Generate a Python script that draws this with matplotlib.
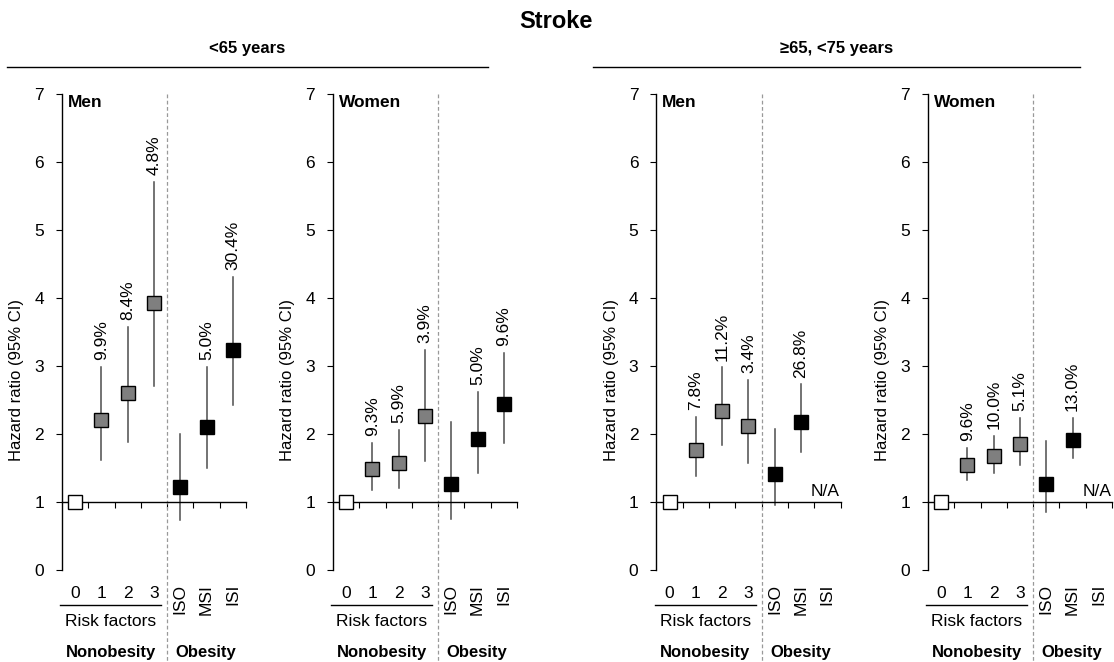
import numpy as np
import matplotlib.pyplot as plt

plt.rcParams['font.family'] = ['Liberation Sans', 'DejaVu Sans']

nan = np.nan
categories = ['0', '1', '2', '3', 'ISO', 'MSI', 'ISI']
age_groups = ['<65 years', '\u226565, <75 years']
sexes = ['Men', 'Women', 'Men', 'Women']

# hazard ratios and 95% CI per panel
hr_men_lt65 = [1.0, 2.21, 2.60, 3.93, 1.22, 2.11, 3.24]
lo_men_lt65 = [nan, 1.62, 1.88, 2.70, 0.74, 1.50, 2.43]
hi_men_lt65 = [nan, 2.99, 3.58, 5.71, 2.00, 2.99, 4.31]
pct_men_lt65 = ['', '9.9%', '8.4%', '4.8%', '', '5.0%', '30.4%']

hr_women_lt65 = [1.0, 1.48, 1.57, 2.27, 1.26, 1.93, 2.44]
lo_women_lt65 = [nan, 1.18, 1.20, 1.60, 0.75, 1.42, 1.87]
hi_women_lt65 = [nan, 1.87, 2.06, 3.24, 2.17, 2.62, 3.19]
pct_women_lt65 = ['', '9.3%', '5.9%', '3.9%', '', '5.0%', '9.6%']

hr_men_65 = [1.0, 1.77, 2.34, 2.12, 1.41, 2.18, nan]
lo_men_65 = [nan, 1.38, 1.84, 1.58, 0.96, 1.74, nan]
hi_men_65 = [nan, 2.25, 2.98, 2.80, 2.08, 2.73, nan]
pct_men_65 = ['', '7.8%', '11.2%', '3.4%', '', '26.8%', '']

hr_women_65 = [1.0, 1.54, 1.68, 1.86, 1.26, 1.91, nan]
lo_women_65 = [nan, 1.32, 1.43, 1.54, 0.86, 1.64, nan]
hi_women_65 = [nan, 1.80, 1.97, 2.24, 1.89, 2.24, nan]
pct_women_65 = ['', '9.6%', '10.0%', '5.1%', '', '13.0%', '']

panels = [
    (hr_men_lt65, lo_men_lt65, hi_men_lt65, pct_men_lt65),
    (hr_women_lt65, lo_women_lt65, hi_women_lt65, pct_women_lt65),
    (hr_men_65, lo_men_65, hi_men_65, pct_men_65),
    (hr_women_65, lo_women_65, hi_women_65, pct_women_65),
]

face = ['white', '#7f7f7f', '#7f7f7f', '#7f7f7f', 'black', 'black', 'black']

W, H = 1114, 662
fig = plt.figure(figsize=(W / 100, H / 100), dpi=100)

lefts = [62, 333, 656.5, 928]
ax_w = 184
y0_px, y7_px = 570, 94
ax_h = y0_px - y7_px
fs = 12.5

x = np.arange(len(categories))

for k, (hr, lo, hi, pct) in enumerate(panels):
    ax = fig.add_axes([lefts[k] / W, (H - y0_px) / H, ax_w / W, ax_h / H])
    ax.set_xlim(-0.5, 6.5)
    ax.set_ylim(0, 7)
    for s in ['top', 'right']:
        ax.spines[s].set_visible(False)
    ax.spines['bottom'].set_position(('data', 1))
    ax.spines['left'].set_linewidth(1.0)
    ax.spines['bottom'].set_linewidth(1.0)
    ax.set_yticks(range(8))
    ax.tick_params(axis='y', direction='out', length=4, pad=9, labelsize=fs)
    ax.set_xticks(np.arange(0.5, 7, 1))
    ax.set_xticklabels([])
    ax.tick_params(axis='x', direction='out', length=4)
    ax.set_ylabel('Hazard ratio (95% CI)', fontsize=12)
    ax.yaxis.set_label_coords(-0.205, 0.40)

    for i in range(len(categories)):
        if np.isnan(hr[i]):
            continue
        if not np.isnan(lo[i]):
            ax.plot([x[i], x[i]], [lo[i], hi[i]], color='#4d4d4d', lw=1.1, zorder=2)
        ax.plot(x[i], hr[i], marker='s', ms=9.5, mfc=face[i], mec='black',
                mew=1.0, zorder=3, clip_on=False)
        if pct[i]:
            ax.text(x[i], hi[i] + 0.1, pct[i], rotation=90, ha='center',
                    va='bottom', fontsize=fs)
    if np.isnan(hr[6]):
        ax.text(x[6] - 0.07, 1.04, 'N/A', ha='center', va='bottom', fontsize=fs)

    ax.text(0.03, 0.983, sexes[k], transform=ax.transAxes, fontsize=12.5,
            fontweight='bold', ha='left', va='center')

    trans = ax.get_xaxis_transform()
    # dashed separator
    ax.plot([3.5, 3.5], [1.0, -(H - y0_px) / ax_h], transform=trans, ls=(0, (3, 2)),
            color='#999999', lw=0.9, clip_on=False)
    # category labels
    for i in range(4):
        ax.text(x[i], -(593 - y0_px) / ax_h, categories[i], transform=trans,
                ha='center', va='center', fontsize=fs)
    for i in range(4, 7):
        ax.text(x[i], -(584 - y0_px) / ax_h, categories[i], transform=trans,
                ha='center', va='top', rotation=90, fontsize=fs)
    ax.plot([-0.57, 3.28], [-(605 - y0_px) / ax_h] * 2, transform=trans,
            color='black', lw=1.0, clip_on=False)
    ax.text(1.35, -(622 - y0_px) / ax_h, 'Risk factors', transform=trans,
            ha='center', va='center', fontsize=fs)
    ax.text(1.35, -(652 - y0_px) / ax_h, 'Nonobesity', transform=trans,
            ha='center', va='center', fontsize=12, fontweight='bold')
    ax.text(4.97, -(652 - y0_px) / ax_h, 'Obesity', transform=trans,
            ha='center', va='center', fontsize=12, fontweight='bold')

fig.text(556 / W, 1 - 21 / H, 'Stroke', ha='center', va='center',
         fontsize=17, fontweight='bold')
group_spans = [(7, 488), (593, 1080)]
for label, (a, b) in zip(age_groups, group_spans):
    fig.text((a + b) / 2 / W, 1 - 49 / H, label, ha='center', va='center',
             fontsize=12, fontweight='bold')
    fig.add_artist(plt.Line2D([a / W, b / W], [1 - 67 / H] * 2, color='black', lw=1.0))

fig.savefig('out.png', dpi=100)
